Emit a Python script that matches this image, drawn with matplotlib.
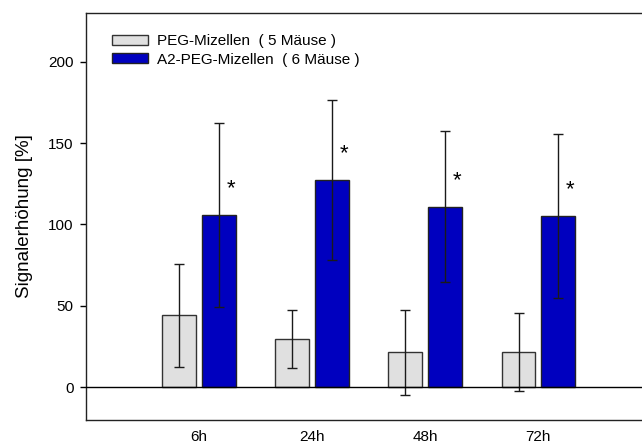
import matplotlib
matplotlib.use("Agg")
import matplotlib.pyplot as plt
import numpy as np

plt.rcParams["font.family"] = ["Liberation Sans", "DejaVu Sans"]

# data
times = ["6h", "24h", "48h", "72h"]
peg_mean = [44.2, 29.9, 21.7, 21.5]
peg_err = [31.5, 17.7, 26.1, 24.0]
a2_mean = [105.8, 127.3, 110.9, 105.4]
a2_err = [56.5, 49.0, 46.2, 50.4]
significant = [True, True, True, True]

labels = ["PEG-Mizellen  ( 5 Mäuse )", "A2-PEG-Mizellen  ( 6 Mäuse )"]

fig = plt.figure(figsize=(6.42, 4.44), dpi=100)
ax = fig.add_axes([86 / 642, 1 - 420 / 444, 1 - 86 / 642, (420 - 12.7) / 444])

x = np.arange(1, len(times) + 1)
off, w = 0.176, 0.30
ekw = dict(ecolor="#1a1a1a", elinewidth=1.0, capsize=3.8, capthick=1.0)
ax.bar(x - off, peg_mean, w, yerr=peg_err, color="#e0e0e0", edgecolor="#333333",
       linewidth=1.0, error_kw=ekw, label=labels[0], zorder=2)
ax.bar(x + off, a2_mean, w, yerr=a2_err, color="#0000bf", edgecolor="#222222",
       linewidth=1.0, error_kw=ekw, label=labels[1], zorder=2)

# significance marks next to the A2 bars
for xi, m, s in zip(x, a2_mean, significant):
    if s:
        ax.text(xi + 0.28, m + 16, "*", ha="center", va="center", fontsize=16, zorder=4)

ax.axhline(0, color="black", lw=1.0, zorder=3)

ax.set_xlim(0, 1 + (642 - 199.5) / 113)
ax.set_ylim(-20, 230)
ax.set_yticks([0, 50, 100, 150, 200])
ax.set_xticks(x)
ax.set_xticklabels(times)
ax.tick_params(axis="x", length=0, pad=7, labelsize=11)
ax.tick_params(axis="y", length=4, width=1, pad=5, labelsize=11)
ax.spines["right"].set_visible(False)
for sp in ("left", "top", "bottom"):
    ax.spines[sp].set_linewidth(1.0)
    ax.spines[sp].set_color("#222222")

ax.set_ylabel("Signalerhöhung [%]", fontsize=13.5, labelpad=11)

ax.legend(loc="upper left", bbox_to_anchor=(112 / 642, 1 - 34 / 444),
          bbox_transform=fig.transFigure, frameon=False, fontsize=11,
          borderpad=0, borderaxespad=0, handlelength=2.35, handleheight=0.65,
          handletextpad=0.6, labelspacing=0.3)

fig.savefig("out.png", dpi=100)
